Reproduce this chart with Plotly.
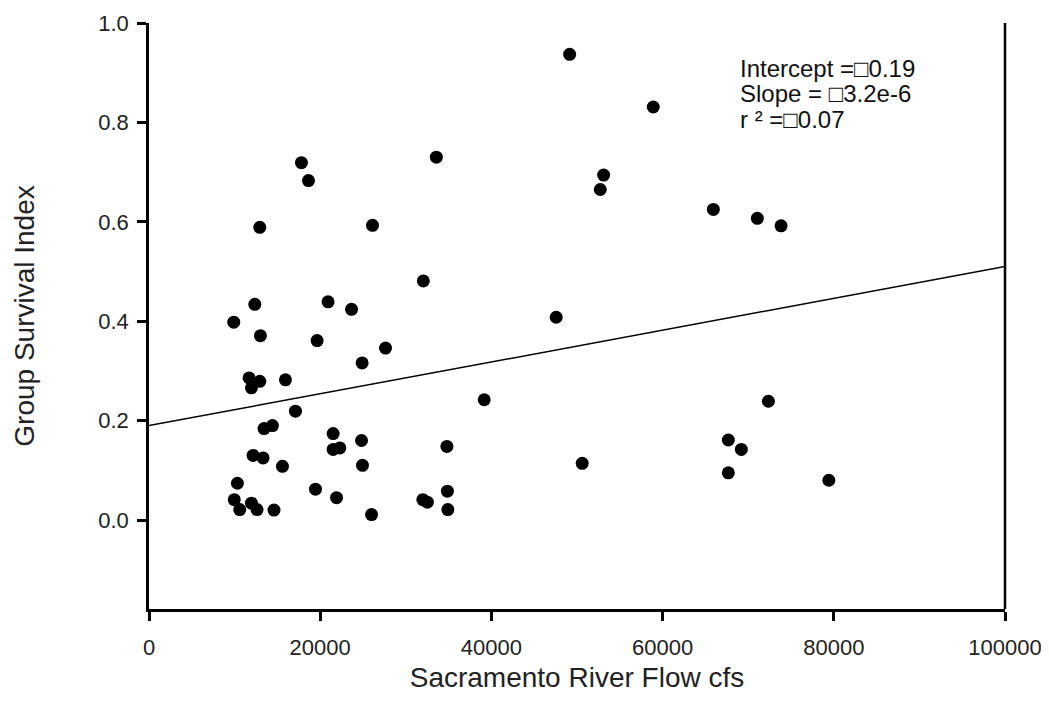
import plotly.graph_objects as go

# Data
flow_cfs = [49140, 58910, 17810, 18630, 33570, 53110, 52720, 12940, 26110, 65930,
            71070, 73840, 32050, 12360, 20920, 23660, 9900, 47570, 13020, 19640,
            27630, 24900, 11690, 12940, 11970, 15940, 17110, 39160, 72360, 14420,
            13440, 21510, 24830, 21510, 22290, 34800, 67680, 69200, 12160, 13330,
            15590, 24940, 50610, 67680, 79420, 10330, 19450, 21910, 34860, 9960,
            11970, 12620, 10600, 14600, 26000, 31990, 32520, 34910]
survival = [0.937, 0.831, 0.719, 0.683, 0.730, 0.694, 0.665, 0.589, 0.593, 0.625,
            0.607, 0.592, 0.481, 0.434, 0.439, 0.424, 0.398, 0.408, 0.371, 0.361,
            0.346, 0.316, 0.286, 0.279, 0.266, 0.282, 0.219, 0.242, 0.239, 0.190,
            0.184, 0.174, 0.160, 0.142, 0.145, 0.148, 0.161, 0.142, 0.130, 0.125,
            0.108, 0.110, 0.114, 0.095, 0.080, 0.074, 0.062, 0.045, 0.058, 0.041,
            0.034, 0.021, 0.021, 0.020, 0.011, 0.041, 0.036, 0.021]

intercept = 0.19
slope = 3.2e-6
fit_x = [0, 100000]
fit_y = [intercept + slope * v for v in fit_x]

x_ticks = [0, 20000, 40000, 60000, 80000, 100000]
y_ticks = [0.0, 0.2, 0.4, 0.6, 0.8, 1.0]
stats_lines = ["Intercept =\u25a10.19", "Slope = \u25a13.2e-6", "r \u00b2 =\u25a10.07"]

FONT = "Liberation Sans, Arial, sans-serif"

fig = go.Figure()
fig.add_trace(go.Scatter(x=fit_x, y=fit_y, mode="lines",
                         line=dict(color="black", width=1.5), showlegend=False,
                         hoverinfo="skip"))
fig.add_trace(go.Scatter(x=flow_cfs, y=survival, mode="markers",
                         marker=dict(color="black", size=13, line=dict(width=0)),
                         showlegend=False))

line_y = [0.922, 0.879, 0.836]
for txt, yy in zip(stats_lines, line_y):
    fig.add_annotation(text=txt, x=0.688, y=yy, xref="paper", yref="paper",
                       xanchor="left", yanchor="middle", showarrow=False,
                       font=dict(family=FONT, size=24, color="#111111"))

# right frame line
fig.add_shape(type="line", xref="paper", yref="paper", x0=1, x1=1, y0=0, y1=1,
              line=dict(color="black", width=2.5))

fig.update_xaxes(range=[0, 100000], tickvals=x_ticks,
                 ticktext=[str(v) for v in x_ticks], automargin=False,
                 showgrid=False, zeroline=False, showline=True,
                 linecolor="black", linewidth=2.5, ticks="outside", ticklen=9,
                 tickwidth=2.5, tickcolor="black", ticklabelstandoff=8,
                 ticklabeloverflow="allow",
                 tickfont=dict(family=FONT, size=22, color="#222222"),
                 title=dict(text="Sacramento River Flow cfs", standoff=9,
                            font=dict(family=FONT, size=28, color="#222222")))
fig.update_yaxes(range=[-0.179, 1.0], tickvals=y_ticks,
                 ticktext=[f"{v:.1f}" for v in y_ticks], automargin=False,
                 showgrid=False, zeroline=False, showline=True,
                 linecolor="black", linewidth=2.5, ticks="outside", ticklen=9,
                 tickwidth=2.5, tickcolor="black", ticklabelstandoff=4,
                 ticklabeloverflow="allow",
                 tickfont=dict(family=FONT, size=22, color="#222222"),
                 title=dict(text="Group Survival Index", standoff=56,
                            font=dict(family=FONT, size=28, color="#222222")))

fig.update_layout(width=1049, height=708, plot_bgcolor="white", paper_bgcolor="white",
                  margin=dict(l=141, r=52, t=15, b=107))

fig.write_html("out.html")
